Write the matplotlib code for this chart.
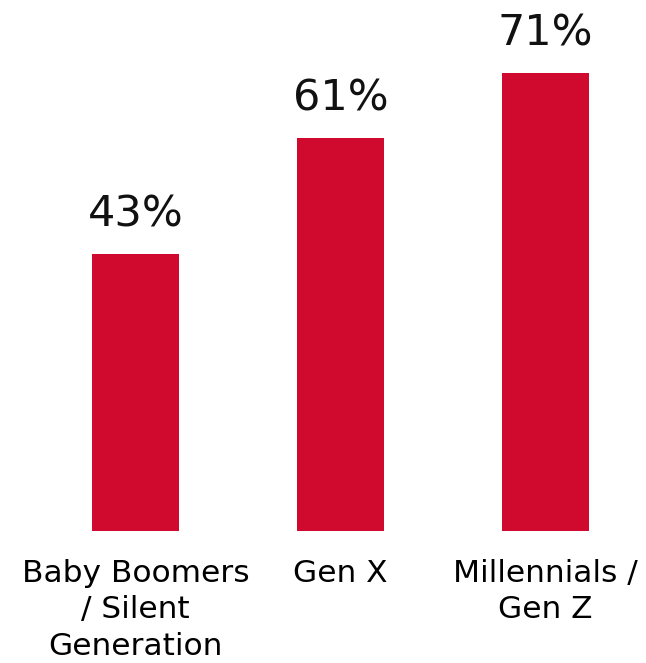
import matplotlib
matplotlib.use('Agg')
import matplotlib.pyplot as plt

# data
groups = ['Baby Boomers\n/ Silent\nGeneration', 'Gen X', 'Millennials /\nGen Z']
values = [43, 61, 71]
bar_color = '#D00A2E'

fig = plt.figure(figsize=(6.46, 6.63), dpi=100)
ax = fig.add_axes([33 / 646, 132 / 663, 615 / 646, 516 / 663])

x = range(len(groups))
bars = ax.bar(x, values, width=0.42, color=bar_color)

for b, v in zip(bars, values):
    ax.annotate('{}%'.format(v), (b.get_x() + b.get_width() / 2, v),
                xytext=(0, 13), textcoords='offset points',
                ha='center', va='bottom', fontsize=31, color='#111111')

ax.set_xlim(-0.5, 2.5)
ax.set_ylim(0, 80)
ax.set_xticks(list(x))
ax.set_xticklabels(groups, fontsize=22.5, linespacing=1.33)
ax.tick_params(axis='x', length=0, pad=20)
ax.set_yticks([])
for s in ax.spines.values():
    s.set_visible(False)

fig.savefig('out.png', dpi=100)
